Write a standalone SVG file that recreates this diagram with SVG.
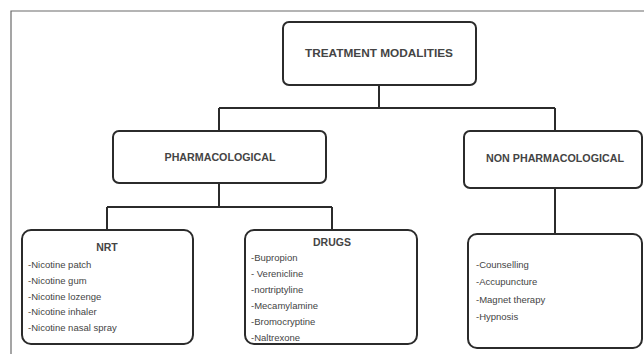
<svg xmlns="http://www.w3.org/2000/svg" width="644" height="354" viewBox="0 0 644 354">
<style>
.box{fill:#fff;stroke:#2b2b2b;stroke-width:2}
.ln{fill:none;stroke:#2b2b2b;stroke-width:2}
.frame{fill:none;stroke:#6a6a6a;stroke-width:1.2}
.h{font-family:"Liberation Sans",Arial,sans-serif;font-weight:bold;font-size:10.5px;fill:#444;text-anchor:middle}
.t{font-family:"Liberation Sans",Arial,sans-serif;font-size:9.5px;fill:#444}
</style>
<rect width="644" height="354" fill="#fff"/>
<path class="frame" d="M11,354 V11 H644"/>
<g id="connectors">
<path class="ln" d="M379,85 V108 M219,108 H555 M219,108 V131 M555,108 V131"/>
<path class="ln" d="M219,183 V207 M107,207 H332 M107,207 V230 M332,207 V230"/>
<path class="ln" d="M555,188 V234"/>
</g>
<g id="treatment">
<rect class="box" x="283" y="22" width="193" height="63" rx="6"/>
<text class="h" x="379" y="57" textLength="148" lengthAdjust="spacingAndGlyphs">TREATMENT MODALITIES</text>
</g>
<g id="pharma">
<rect class="box" x="113" y="131" width="213" height="52" rx="6"/>
<text class="h" x="220" y="161" textLength="111" lengthAdjust="spacingAndGlyphs">PHARMACOLOGICAL</text>
</g>
<g id="nonpharma">
<rect class="box" x="464" y="131" width="178" height="57" rx="6"/>
<text class="h" x="555" y="162" textLength="138" lengthAdjust="spacingAndGlyphs">NON PHARMACOLOGICAL</text>
</g>
<g id="nrt">
<rect class="box" x="22" y="230" width="171" height="114" rx="9"/>
<text class="h" x="107" y="251">NRT</text>
<text class="t" x="28" y="268">-Nicotine patch</text>
<text class="t" x="28" y="284">-Nicotine gum</text>
<text class="t" x="28" y="300">-Nicotine lozenge</text>
<text class="t" x="28" y="315">-Nicotine inhaler</text>
<text class="t" x="28" y="331">-Nicotine nasal spray</text>
</g>
<g id="drugs">
<rect class="box" x="245" y="230" width="172" height="114" rx="9"/>
<text class="h" x="332" y="246">DRUGS</text>
<text class="t" x="251" y="261">-Bupropion</text>
<text class="t" x="251" y="277">- Verenicline</text>
<text class="t" x="251" y="293">-nortriptyline</text>
<text class="t" x="251" y="309">-Mecamylamine</text>
<text class="t" x="251" y="325">-Bromocryptine</text>
<text class="t" x="251" y="341">-Naltrexone</text>
</g>
<g id="nonpharma-list">
<rect class="box" x="468" y="234" width="174" height="114" rx="9"/>
<text class="t" x="476" y="268">-Counselling</text>
<text class="t" x="476" y="285">-Accupuncture</text>
<text class="t" x="476" y="303">-Magnet therapy</text>
<text class="t" x="476" y="320">-Hypnosis</text>
</g>
</svg>
